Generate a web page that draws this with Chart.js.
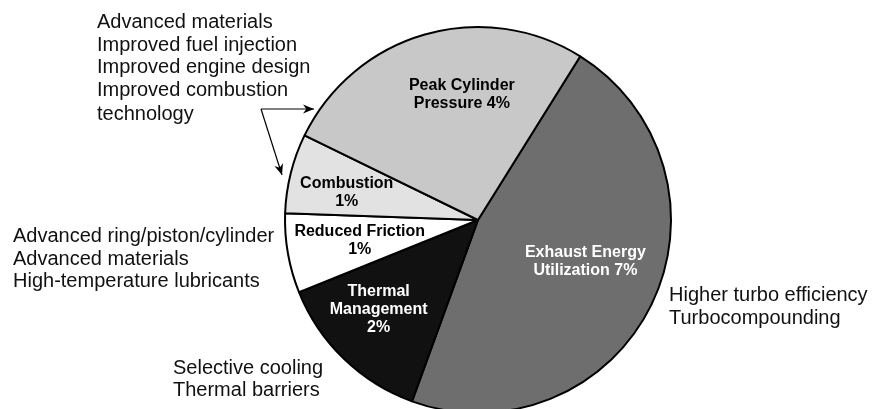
<!DOCTYPE html>
<html>
<head>
<meta charset="utf-8">
<script src="https://cdn.jsdelivr.net/npm/chart.js@4/dist/chart.umd.min.js"></script>
<style>
  html, body { margin: 0; padding: 0; background: #fff; }
  #wrap { width: 876px; height: 409px; overflow: hidden; position: relative; }
</style>
</head>
<body>
<div id="wrap"><canvas id="pie" width="876" height="440"></canvas></div>
<script>
// slices, clockwise from the top right
const categories = ['Exhaust Energy Utilization', 'Thermal Management', 'Reduced Friction', 'Combustion', 'Peak Cylinder Pressure'];
const shares = [7, 2, 1, 1, 4]; // percent
const sliceLabels = [
  ['Exhaust Energy', 'Utilization 7%'],
  ['Thermal', 'Management', '2%'],
  ['Reduced Friction', '1%'],
  ['Combustion', '1%'],
  ['Peak Cylinder', 'Pressure 4%']
];
const sliceColors = ['#6e6e6e', '#111111', '#ffffff', '#e2e2e2', '#c8c8c8'];
const labelColors = ['#ffffff', '#ffffff', '#000000', '#000000', '#000000'];

// notes around the pie
const notes = [
  { x: 97, y: 28, lines: ['Advanced materials', 'Improved fuel injection', 'Improved engine design', 'Improved combustion'], gap: 22.5 },
  { x: 97, y: 120, lines: ['technology'], gap: 22 },
  { x: 13, y: 242, lines: ['Advanced ring/piston/cylinder', 'Advanced materials', 'High-temperature lubricants'], gap: 22.5 },
  { x: 173, y: 374, lines: ['Selective cooling', 'Thermal barriers'], gap: 22 },
  { x: 669, y: 301, lines: ['Higher turbo efficiency', 'Turbocompounding'], gap: 23 }
];

// where each label sits inside its slice: fraction of the sweep, distance from centre
const labelPlace = [
  { t: 0.47, r: 115 },
  { t: 0.58, r: 134 },
  { t: 0.51, r: 120 },
  { t: 0.40, r: 134 },
  { t: 0.59, r: 126 }
];

const decorations = {
  id: 'decorations',
  afterDatasetsDraw(chart) {
    const ctx = chart.ctx;
    const arcs = chart.getDatasetMeta(0).data;
    ctx.save();
    // slice labels
    ctx.font = 'bold 16px "Liberation Sans", Arial, sans-serif';
    ctx.textAlign = 'center';
    ctx.textBaseline = 'middle';
    arcs.forEach((arc, i) => {
      const p = labelPlace[i];
      const a = arc.startAngle + p.t * (arc.endAngle - arc.startAngle);
      const cx = arc.x + Math.cos(a) * p.r;
      const cy = arc.y + Math.sin(a) * p.r;
      const lines = sliceLabels[i];
      const lh = 18;
      ctx.fillStyle = labelColors[i];
      lines.forEach((s, k) => {
        ctx.fillText(s, cx, cy + (k - (lines.length - 1) / 2) * lh);
      });
    });
    // notes
    ctx.font = '20px "Liberation Sans", Arial, sans-serif';
    ctx.textAlign = 'left';
    ctx.textBaseline = 'alphabetic';
    ctx.fillStyle = '#111';
    notes.forEach(n => {
      n.lines.forEach((s, k) => ctx.fillText(s, n.x, n.y + k * n.gap));
    });
    // arrows from the combustion note
    ctx.strokeStyle = '#000';
    ctx.fillStyle = '#000';
    ctx.lineWidth = 1.2;
    const vx = 261, vy = 109;
    const arrow = (tx, ty) => {
      ctx.beginPath();
      ctx.moveTo(vx, vy);
      ctx.lineTo(tx, ty);
      ctx.stroke();
      const ang = Math.atan2(ty - vy, tx - vx);
      const len = 11, w = 4.5;
      ctx.beginPath();
      ctx.moveTo(tx, ty);
      ctx.lineTo(tx - len * Math.cos(ang) + w * Math.sin(ang), ty - len * Math.sin(ang) - w * Math.cos(ang));
      ctx.lineTo(tx - len * 0.7 * Math.cos(ang), ty - len * 0.7 * Math.sin(ang));
      ctx.lineTo(tx - len * Math.cos(ang) - w * Math.sin(ang), ty - len * Math.sin(ang) + w * Math.cos(ang));
      ctx.closePath();
      ctx.fill();
    };
    arrow(314, 109);
    arrow(282, 175);
    ctx.restore();
  }
};

new Chart(document.getElementById('pie'), {
  type: 'pie',
  data: {
    labels: categories,
    datasets: [{
      data: shares,
      backgroundColor: sliceColors,
      borderColor: '#000',
      borderWidth: 2
    }]
  },
  options: {
    responsive: false,
    devicePixelRatio: 1,
    animation: false,
    rotation: 32,
    radius: 193,
    layout: { padding: { left: 80, right: 0, top: 0, bottom: 0 } },
    plugins: {
      legend: { display: false },
      tooltip: { enabled: false },
      title: { display: false }
    }
  },
  plugins: [decorations]
});
</script>
</body>
</html>
